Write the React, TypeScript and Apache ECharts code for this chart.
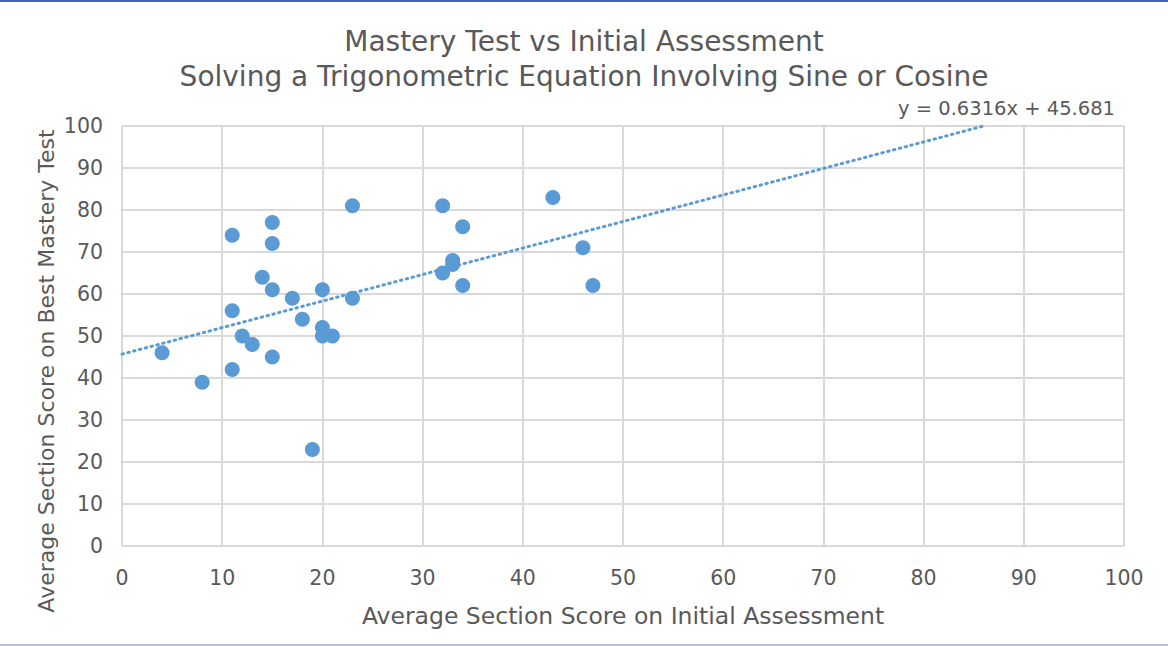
import React, { useEffect, useRef } from "react";
import * as echarts from "echarts";

const initialScores = [4, 8, 11, 11, 11, 12, 13, 14, 15, 15, 15, 15, 17, 18, 19, 20, 20, 20, 21, 23, 23, 32, 32, 33, 33, 34, 34, 43, 46, 47];
const masteryScores = [46, 39, 74, 56, 42, 50, 48, 64, 77, 72, 61, 45, 59, 54, 23, 61, 52, 50, 50, 81, 59, 81, 65, 68, 67, 76, 62, 83, 71, 62];
const trendSlope = 0.6316;
const trendIntercept = 45.681;
const trendXs = [0, 86.01];
const titleLines = ["Mastery Test vs Initial Assessment", "Solving a Trigonometric Equation Involving Sine or Cosine"];
const xAxisName = "Average Section Score on Initial Assessment";
const yAxisName = "Average Section Score on Best Mastery Test";

export default function App() {
  const ref = useRef<HTMLDivElement>(null);
  useEffect(() => {
    if (!ref.current) return;
    const chart = echarts.init(ref.current, null, { renderer: "svg" });
    const points = initialScores.map((x, i) => [x, masteryScores[i]]);
    const trend = trendXs.map((x) => [x, trendSlope * x + trendIntercept]);
    const textColor = "#595959";
    const font = "'DejaVu Sans', sans-serif";
    chart.setOption({
      animation: false,
      backgroundColor: "#ffffff",
      textStyle: { fontFamily: font },
      title: {
        text: titleLines.join("\n"),
        left: "center",
        top: 19,
        textStyle: { fontSize: 28, fontWeight: "normal", color: textColor, lineHeight: 35, fontFamily: font },
      },
      grid: { left: 122, right: 44, top: 126, bottom: 100, containLabel: false },
      xAxis: {
        type: "value",
        min: 0,
        max: 100,
        interval: 10,
        name: xAxisName,
        nameLocation: "middle",
        nameGap: 58,
        nameTextStyle: { fontSize: 23.5, color: textColor },
        axisLine: { show: false },
        axisTick: { show: false },
        axisLabel: { fontSize: 20.5, color: textColor, margin: 21 },
        splitLine: { show: true, lineStyle: { color: "#d9d9d9", width: 2 } },
      },
      yAxis: {
        type: "value",
        min: 0,
        max: 100,
        interval: 10,
        axisLine: { show: false },
        axisTick: { show: false },
        axisLabel: { fontSize: 20.5, color: textColor, margin: 19 },
        splitLine: { show: true, lineStyle: { color: "#d9d9d9", width: 2 } },
      },
      graphic: [
        { type: "rect", shape: { x: 0, y: 0, width: 1168, height: 2 }, style: { fill: "#4163b0" } },
        { type: "rect", shape: { x: 0, y: 644, width: 1168, height: 2 }, style: { fill: "#b8c0d2" } },
        {
          type: "text",
          right: 53,
          top: 98,
          style: { text: `y = ${trendSlope}x + ${trendIntercept}`, fontSize: 19.5, fill: textColor, fontFamily: font },
        },
        {
          type: "text",
          x: 46,
          y: 371,
          rotation: Math.PI / 2,
          style: { text: yAxisName, fontSize: 22, fill: textColor, fontFamily: font, align: "center", verticalAlign: "middle" },
        },
      ],
      series: [
        {
          type: "line",
          data: trend,
          symbol: "none",
          z: 1,
          lineStyle: { color: "#5b9bd5", width: 3, type: [1.5, 4.5], cap: "round" },
        },
        {
          type: "scatter",
          data: points,
          symbol: "circle",
          symbolSize: 15,
          z: 3,
          itemStyle: { color: "#5b9bd5", opacity: 1 },
        },
      ],
    });
    return () => chart.dispose();
  }, []);
  return <div ref={ref} style={{ position: "absolute", left: 0, top: 0, width: 1168, height: 646 }} />;
}
